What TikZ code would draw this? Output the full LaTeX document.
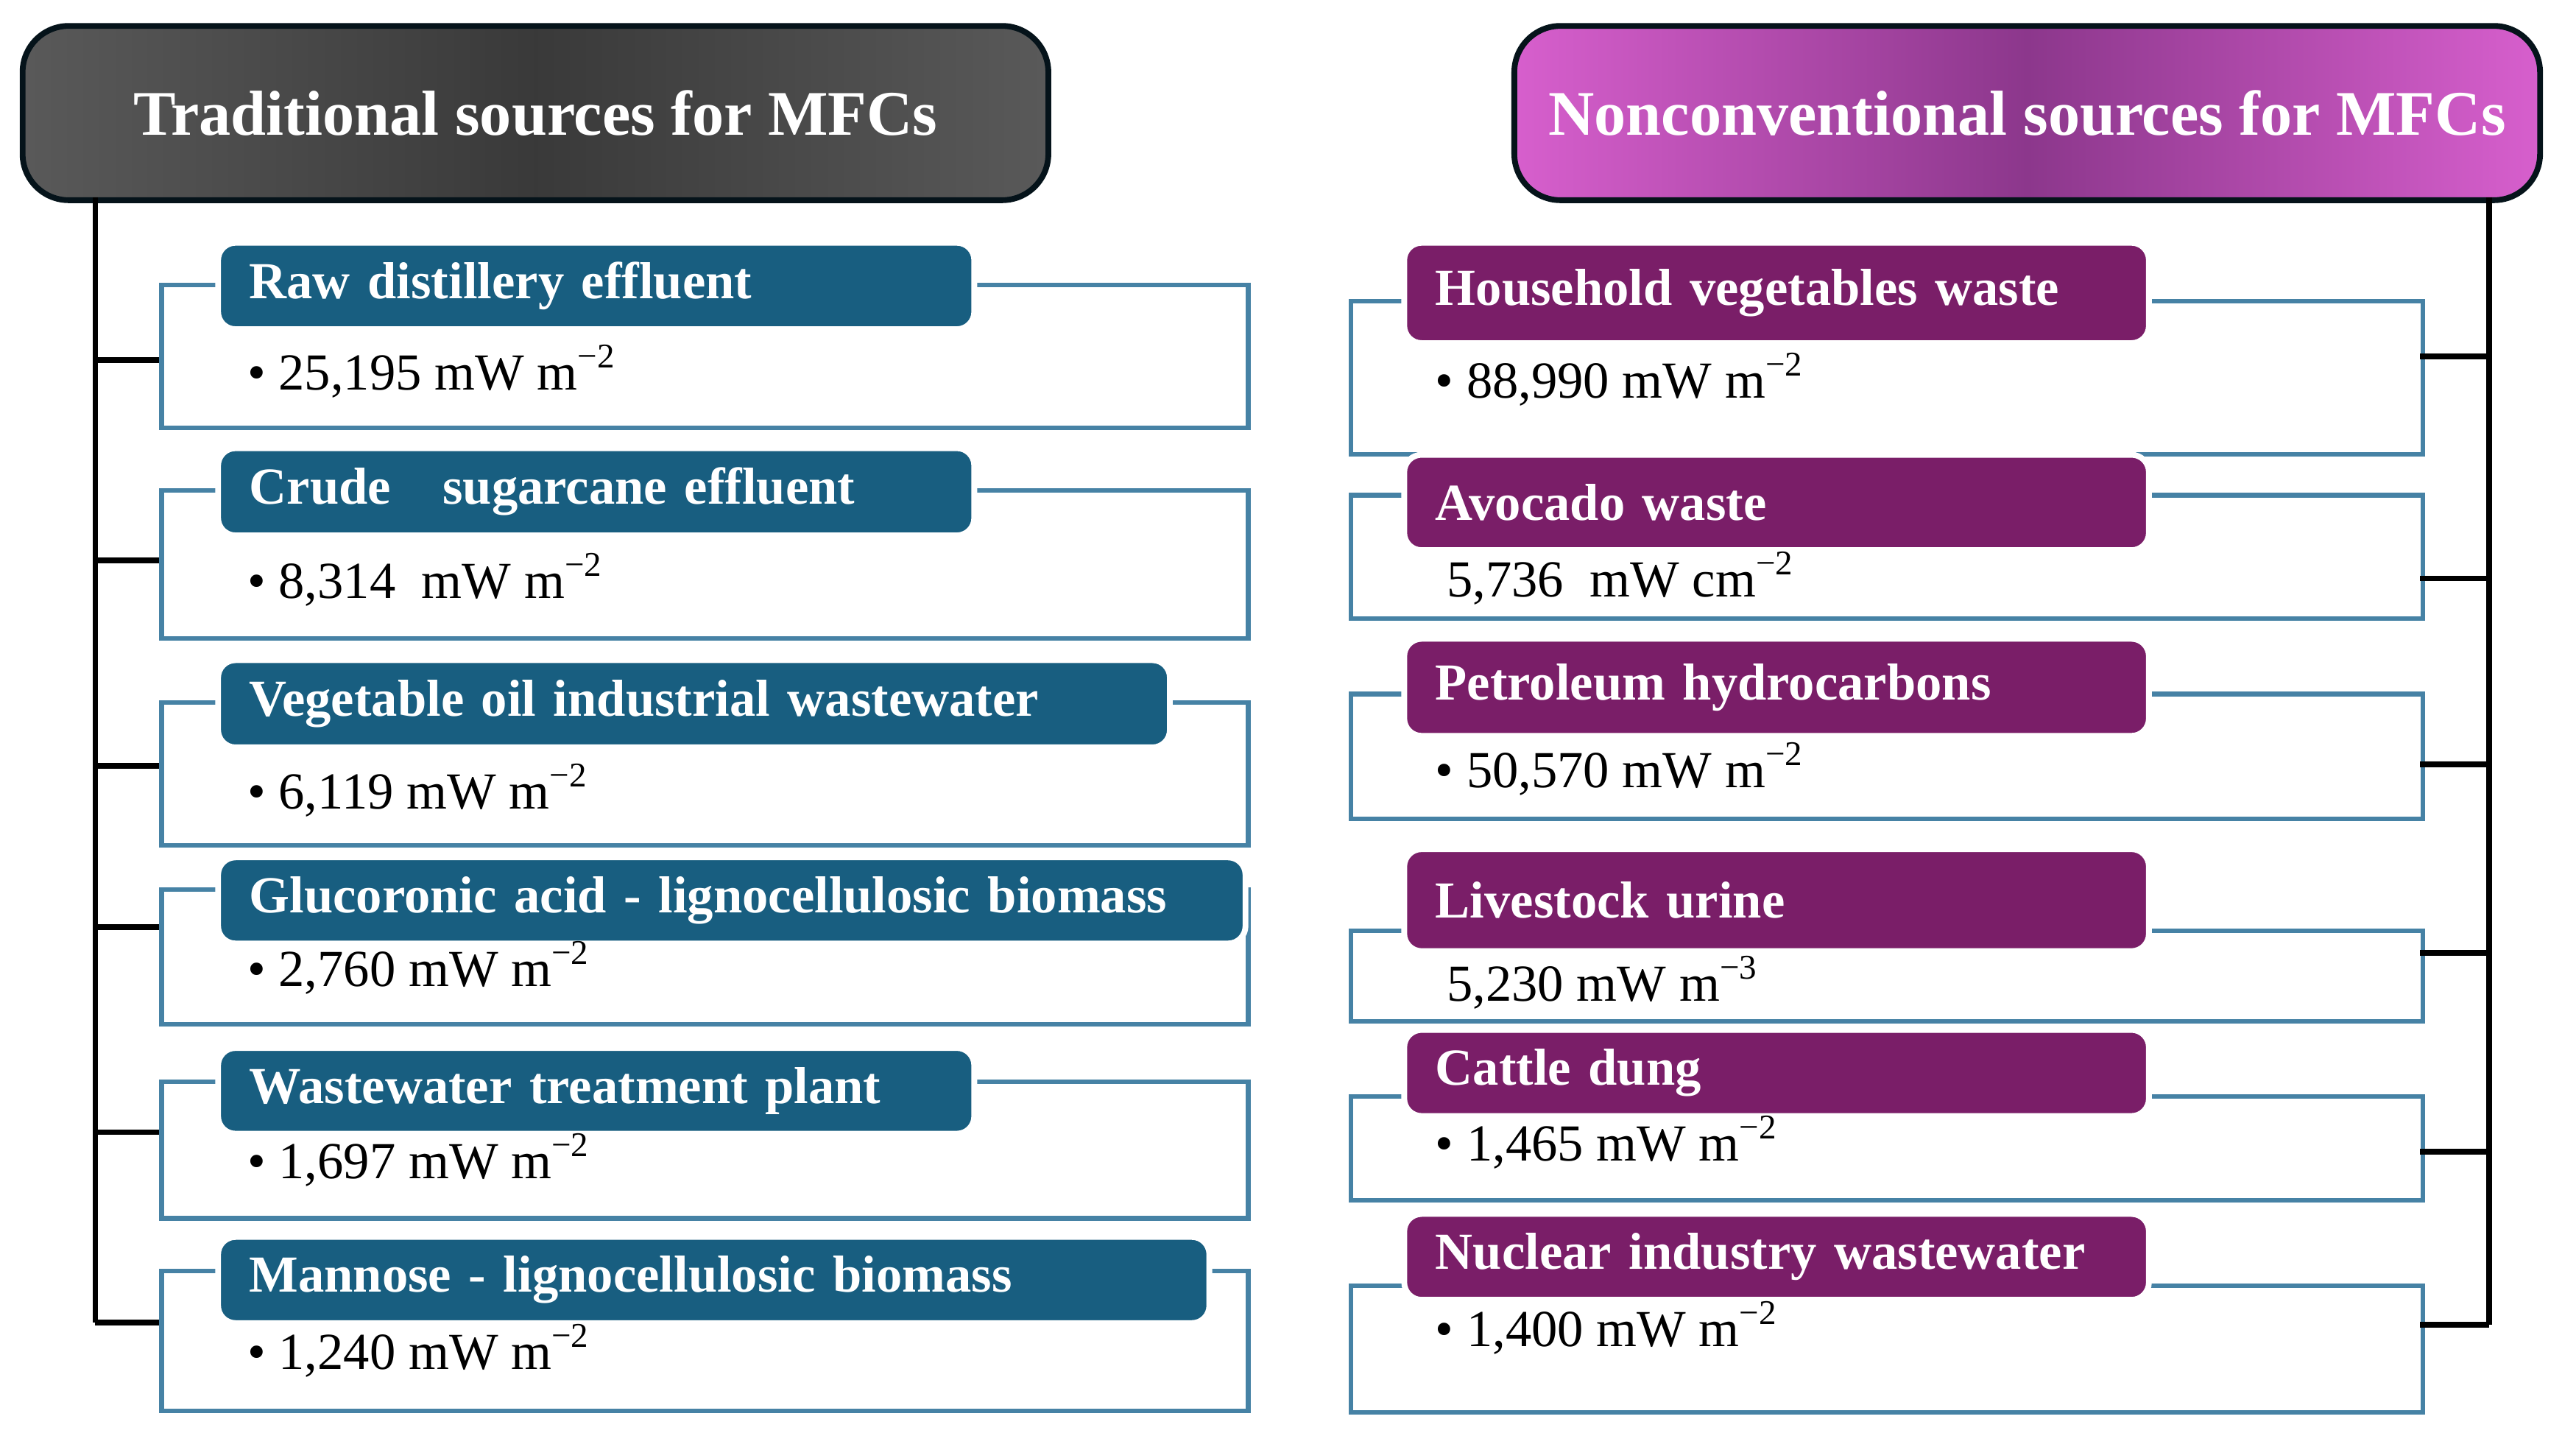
\documentclass[tikz,border=0pt]{standalone}
\usepackage{fontspec}
\setmainfont{Liberation Serif}
\usetikzlibrary{positioning,calc}

\definecolor{mfcteal}{RGB}{24,94,128}
\definecolor{mfcline}{RGB}{70,130,165}
\definecolor{mfcplum}{RGB}{122,30,104}
\definecolor{mfcpink}{RGB}{215,95,205}
\definecolor{mfcmauve}{RGB}{140,55,140}

\tikzset{
  headbox/.style={draw=black!80!mfcteal, line width=1pt, rounded corners=8pt, text=white,
    font=\fontsize{11}{13}\selectfont\bfseries, minimum width=6.24cm, minimum height=1.06cm},
  outbox/.style={draw=mfcline, line width=0.8pt, anchor=north west},
  lefttab/.style={fill=mfcteal, draw=white, line width=1pt, rounded corners=3pt, text=white,
    anchor=north west, align=left, inner xsep=0.19cm,
    font=\fontsize{9}{11}\selectfont\bfseries},
  righttab/.style={lefttab, fill=mfcplum},
  valtxt/.style={anchor=west, inner sep=0pt, font=\fontsize{9}{11}\selectfont},
  branch/.style={line width=1pt, black}
}

\begin{document}
\begin{tikzpicture}[x=0.01cm, y=-0.01cm]
    \useasboundingbox (0,0) rectangle (1568,872);

    % Headers
    \node[headbox, left color=gray!70!black, right color=gray!70!black, middle color=gray!45!black,
          shading=axis, shading angle=90, anchor=north west] (lhead) at (12,14) {Traditional sources for MFCs};
    \node[headbox, left color=mfcpink, right color=mfcpink, middle color=mfcmauve,
          shading=axis, shading angle=90, anchor=north west] (rhead) at (920,14) {Nonconventional sources for MFCs};

    % Trunk lines
    \coordinate (ltop) at (58,120);
    \coordinate (lbot) at (58,805);
    \coordinate (rtop) at (1515,120);
    \coordinate (rbot) at (1515,806);
    \draw[branch] (ltop) -- (lbot);
    \draw[branch] (rtop) -- (rbot);

    % Traditional sources
    \foreach \n/\ya/\yb/\ta/\tb/\tx/\yv/\yt/\lbl/\val in {
        1/172/259/146/198/591/226/219/{Raw distillery effluent}/{\textbullet\ 25,195 mW m\textsuperscript{−2}},
        2/297/387/271/324/591/353/341/{Crude\ \ \ sugarcane effluent}/{\textbullet\ 8,314\ \ mW m\textsuperscript{−2}},
        3/426/513/400/453/710/481/466/{Vegetable oil industrial wastewater}/{\textbullet\ 6,119 mW m\textsuperscript{−2}},
        4/540/622/520/566/756/589/564/{Glucoronic acid - lignocellulosic biomass}/{\textbullet\ 2,760 mW m\textsuperscript{−2}},
        5/657/740/636/682/591/706/689/{Wastewater treatment plant}/{\textbullet\ 1,697 mW m\textsuperscript{−2}},
        6/772/857/751/797/734/822/805/{Mannose - lignocellulosic biomass}/{\textbullet\ 1,240 mW m\textsuperscript{−2}}} {
        \pgfmathsetmacro\bh{(\yb-\ya)/100}
        \pgfmathsetmacro\th{(\tb-\ta)/100}
        \pgfmathsetmacro\tw{(\tx-131)/100}
        \node[outbox, minimum width=6.61cm, minimum height=\bh cm] (lbox\n) at (97,\ya) {};
        \node[lefttab, minimum height=\th cm, text width={\tw cm-0.38cm}] (ltab\n) at (131,\ta) {\lbl};
        \node[valtxt] (lval\n) at (150,\yv) {\val};
        \coordinate (lfork\n) at (97,\yt);
        \draw[branch] (lfork\n -| ltop) -- (lfork\n);
    }

    % Nonconventional sources
    \foreach \n/\ya/\yb/\ta/\tb/\yv/\xv/\yt/\lbl/\val in {
        1/182/275/146/207/231/873/217/{Household vegetables waste}/{\textbullet\ 88,990 mW m\textsuperscript{−2}},
        2/300/375/275/333/352/880/352/{Avocado waste}/{5,736\ \ mW cm\textsuperscript{−2}},
        3/421/497/387/446/468/873/465/{Petroleum hydrocarbons}/{\textbullet\ 50,570 mW m\textsuperscript{−2}},
        4/565/620/515/577/598/880/580/{Livestock urine}/{5,230 mW m\textsuperscript{−3}},
        5/666/729/625/675/695/873/701/{Cattle dung}/{\textbullet\ 1,465 mW m\textsuperscript{−2}},
        6/781/858/737/789/808/873/806/{Nuclear industry wastewater}/{\textbullet\ 1,400 mW m\textsuperscript{−2}}} {
        \pgfmathsetmacro\bh{(\yb-\ya)/100}
        \pgfmathsetmacro\th{(\tb-\ta)/100}
        \node[outbox, minimum width=6.52cm, minimum height=\bh cm] (rbox\n) at (821,\ya) {};
        \node[righttab, minimum height=\th cm, text width=4.15cm] (rtab\n) at (853,\ta) {\lbl};
        \node[valtxt] (rval\n) at (\xv,\yv) {\val};
        \coordinate (rfork\n) at (1473,\yt);
        \draw[branch] (rfork\n) -- (rfork\n -| rtop);
    }
\end{tikzpicture}
\end{document}
